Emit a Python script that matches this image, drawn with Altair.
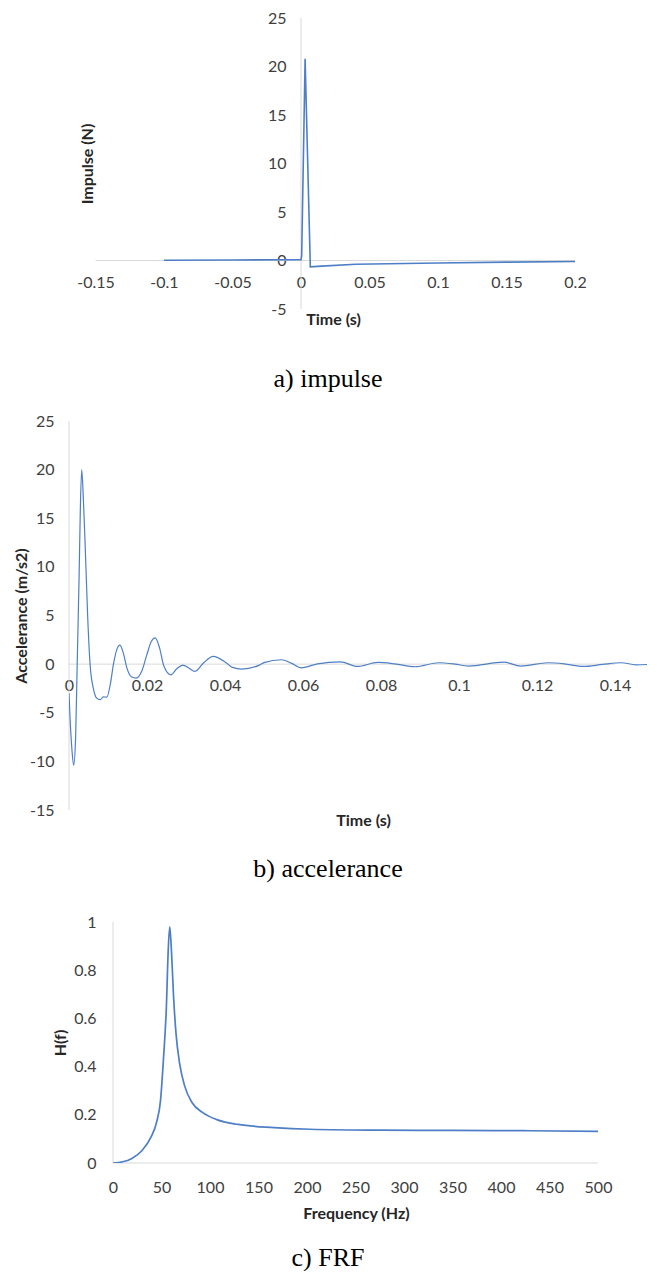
import altair as alt
import pandas as pd

# ---------------- data ----------------
# a) impulse
imp_t = [-0.1, -0.05, 0.0, 0.0005, 0.003, 0.0068, 0.015, 0.04, 0.1, 0.15, 0.2]
imp_v = [0.02, 0.05, 0.08, 0.5, 20.8, -0.65, -0.58, -0.38, -0.25, -0.17, -0.1]
imp_xticks = [-0.15, -0.1, -0.05, 0, 0.05, 0.1, 0.15, 0.2]
imp_yticks = [-5, 0, 5, 10, 15, 20, 25]

# b) accelerance
acc_t = [0.0, 0.0003, 0.00077, 0.0012, 0.0017, 0.0021, 0.0026, 0.0029, 0.00326,
         0.0037, 0.0041, 0.0048, 0.0054, 0.0063, 0.0071, 0.008, 0.0088, 0.0097,
         0.0106, 0.0114, 0.0123, 0.01305, 0.014, 0.0148, 0.016, 0.0172, 0.0187,
         0.02, 0.0211, 0.0221, 0.0232, 0.0243, 0.0261, 0.0277, 0.0292, 0.0307,
         0.0323, 0.0346, 0.037, 0.0402, 0.0419, 0.0443, 0.0488, 0.05, 0.0545,
         0.057, 0.0596, 0.0637, 0.0696, 0.0739, 0.0792, 0.0835, 0.0887, 0.0948,
         0.099, 0.1024, 0.1115, 0.1158, 0.1228, 0.127, 0.1319, 0.1368, 0.1416,
         0.1454, 0.15]
acc_v = [-3.0, -5.8, -8.9, -10.4, -7.5, 0.0, 9.2, 15.8, 20.0,
         16.8, 12.7, 4.8, 0.0, -2.6, -3.5, -3.66, -3.36, -3.4,
         -2.05, 0.0, 1.54, 1.95, 1.03, -0.34, -1.3, -1.44, -0.68,
         1.03, 2.33, 2.7, 1.7, -0.17, -1.1, -0.45, -0.1, -0.4,
         -0.75, 0.17, 0.79, 0.17, -0.34, -0.51, -0.1, 0.15, 0.45,
         0.1, -0.38, 0.03, 0.24, -0.24, 0.17, 0.03, -0.27, 0.14,
         0.0, -0.2, 0.2, -0.2, 0.14, 0.03, -0.24, -0.03, 0.14,
         -0.07, 0.0]
acc_xticks = [0, 0.02, 0.04, 0.06, 0.08, 0.1, 0.12, 0.14]
acc_yticks = [-15, -10, -5, 0, 5, 10, 15, 20, 25]

# c) FRF
frf_f = [0, 10, 19, 30, 39, 45, 49, 52, 55, 57, 58.5, 60.3, 62.5, 65, 68.8, 74,
         81.6, 92.6, 107, 129, 166, 203, 276, 350, 423, 500]
frf_h = [0.0, 0.005, 0.018, 0.052, 0.106, 0.17, 0.26, 0.43, 0.645, 0.89, 0.98,
         0.877, 0.686, 0.536, 0.41, 0.318, 0.25, 0.209, 0.18, 0.16, 0.147, 0.14,
         0.136, 0.135, 0.134, 0.131]
frf_xticks = [0, 50, 100, 150, 200, 250, 300, 350, 400, 450, 500]
frf_yticks = [0, 0.2, 0.4, 0.6, 0.8, 1]

# ---------------- style ----------------
LINE = "#4e7fc6"
AXIS_LINE = "#d9d9d9"
LABEL = "#404040"
TITLE = "#262626"
W = 578


def panel(df, xdom, ydom, xticks, yticks, height, xoff, yoff,
          xtitle, xtitle_x, xtitle_y, ytitle, ytitle_x, caption, cap_offset,
          interp, lw, xpad, ypad):
    xaxis = alt.Axis(values=xticks, orient="bottom", offset=xoff, domain=False,
                     ticks=False, grid=False, labelPadding=xpad, labelFont="Lato",
                     labelFontSize=16, labelColor=LABEL, labelFlush=False,
                     labelOverlap=False, labelExpr="'' + datum.value",
                     title=xtitle, titleX=xtitle_x, titleY=xtitle_y,
                     titleFont="Lato", titleFontSize=16, titleFontWeight="bold",
                     titleColor=TITLE)
    yaxis = alt.Axis(values=yticks, orient="left", offset=yoff, domain=False,
                     ticks=False, grid=False, labelPadding=ypad, labelFont="Lato",
                     labelFontSize=16, labelColor=LABEL, labelFlush=False,
                     labelOverlap=False, labelExpr="'' + datum.value",
                     title=ytitle, titleX=ytitle_x,
                     titleFont="Lato", titleFontSize=16, titleFontWeight="bold",
                     titleColor=TITLE)
    line = alt.Chart(df).mark_line(color=LINE, strokeWidth=lw, interpolate=interp,
                                   clip=True).encode(
        x=alt.X("x:Q", scale=alt.Scale(domain=xdom, nice=False, zero=False), axis=xaxis),
        y=alt.Y("y:Q", scale=alt.Scale(domain=ydom, nice=False, zero=False), axis=yaxis),
    )
    hline = alt.Chart().mark_rule(color=AXIS_LINE, strokeWidth=1).encode(
        x=alt.datum(xticks[0]), x2=alt.datum(xticks[-1]), y=alt.datum(0))
    vline = alt.Chart().mark_rule(color=AXIS_LINE, strokeWidth=1).encode(
        x=alt.datum(0), y=alt.datum(yticks[0]), y2=alt.datum(yticks[-1]))
    return alt.layer(hline, vline, line).properties(
        width=W, height=height,
        title=alt.TitleParams(text=caption, orient="bottom", frame="group",
                              anchor="middle", offset=cap_offset, dx=-30,
                              font="Liberation Serif", fontSize=26,
                              fontWeight="normal", color="black"))


# panel a: x=0 at 232px from plot left, 1370 px per second
a_px = 1370.0
a_dom = [-232 / a_px, (W - 232) / a_px]
df_a = pd.DataFrame({"x": imp_t, "y": imp_v})
ha = 291
pa = panel(df_a, a_dom, [imp_yticks[0], imp_yticks[-1]], imp_xticks, imp_yticks, ha,
           -ha * 5 / 30, -232, "Time (s)", 264, 51, "Impulse (N)", -206,
           "a) impulse", 38, "linear", 1.6, 14, 15)

# panel b: 3900 px per second
df_b = pd.DataFrame({"x": acc_t, "y": acc_v})
hb = 389
pb = panel(df_b, [0, W / 3900.0], [acc_yticks[0], acc_yticks[-1]], acc_xticks, acc_yticks, hb,
           -hb * 15 / 40, 0, "Time (s)", 294, 148, "Accelerance (m/s2)", -40,
           "b) accelerance", 28, "monotone", 1.2, 13, 15)

# panel c: x=0 at 44px from plot left, 0.97 px per Hz
c_px = 0.97
c_dom = [-44 / c_px, (W - 44) / c_px]
df_c = pd.DataFrame({"x": frf_f, "y": frf_h})
hc = 241
pc = panel(df_c, c_dom, [0, 1], frf_xticks, frf_yticks, hc,
           0, -44, "Frequency (Hz)", 287, 42, "H(f)", -45,
           "c) FRF", 24, "monotone", 1.7, 16, 17)

chart = alt.vconcat(pa, pb, pc, spacing=112, bounds="flush").properties(
    padding={"left": 5, "top": 2, "right": 0, "bottom": 0},
    background="white",
).configure_view(stroke=None)

chart.save("out.html", embed_options={"renderer": "svg", "actions": False})
